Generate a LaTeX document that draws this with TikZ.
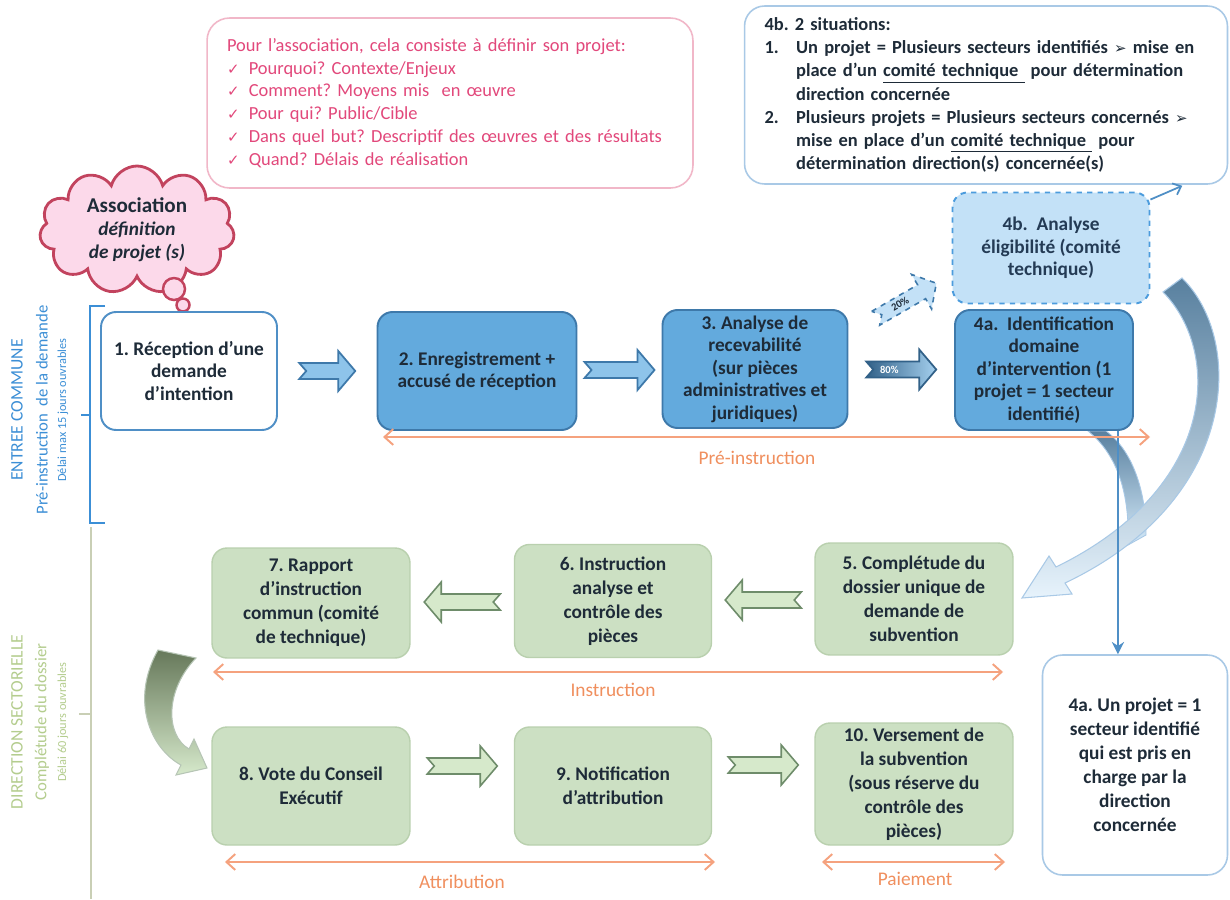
\documentclass[tikz,border=0pt]{standalone}
\usepackage{fontspec}
\setmainfont{Carlito}
\newfontfamily\symfont{DejaVu Sans}
\usetikzlibrary{shapes.symbols,arrows.meta,calc}
\frenchspacing
\definecolor{boxblue}{HTML}{63AADD}
\definecolor{boxblueline}{HTML}{3E79AA}
\definecolor{arrowblue}{HTML}{8EC4EA}
\definecolor{paleblue}{HTML}{C3E1F7}
\definecolor{dashblue}{HTML}{4C9CDD}
\definecolor{lineblue}{HTML}{4F8FC6}
\definecolor{noteblue}{HTML}{A9C9E6}
\definecolor{navytext}{HTML}{243B55}
\definecolor{boxgreen}{HTML}{CCE0C3}
\definecolor{boxgreenline}{HTML}{B9D0AE}
\definecolor{arrowgreen}{HTML}{D6E9CB}
\definecolor{arrowgreenline}{HTML}{6E8C6A}
\definecolor{salmon}{HTML}{F5A27E}
\definecolor{salmontext}{HTML}{F08F5E}
\definecolor{pinktext}{HTML}{E2487B}
\definecolor{pinkline}{HTML}{F1B7C8}
\definecolor{cloudfill}{HTML}{FCD9EA}
\definecolor{cloudline}{HTML}{C2435E}
\definecolor{inkdark}{HTML}{1E2B38}
\definecolor{entryblue}{HTML}{3C8FD6}
\definecolor{sectgreen}{HTML}{B4CD8E}
\definecolor{sectline}{HTML}{C9CFB5}
\definecolor{steel}{HTML}{58809F}
\definecolor{olive}{HTML}{66785A}
\newcommand{\chk}{{\symfont\fontsize{8.5}{10}\selectfont ✓}}
\newcommand{\pointer}{{\symfont\fontsize{8.5}{10}\selectfont ➢}}
\newcommand{\numitem}[1]{\makebox[18pt][l]{#1}}
\begin{document}
\begin{tikzpicture}[x=0.02cm, y=-0.02cm,
    box/.style={rounded corners=0.3cm, align=center, inner sep=2pt, text=inkdark,
      font=\bfseries\fontsize{11}{12.8}\selectfont},
    whitebox/.style={box, fill=white, draw=lineblue, line width=1.1pt},
    bluebox/.style={box, fill=boxblue, draw=boxblueline, line width=1.1pt},
    dashbox/.style={box, fill=paleblue, draw=dashblue, dashed, line width=1.1pt, text=navytext},
    greenbox/.style={box, fill=boxgreen, draw=boxgreenline, line width=0.8pt,
      font=\bfseries\fontsize{11}{13.6}\selectfont},
    notebox/.style={rounded corners=0.4cm, draw=noteblue, fill=white, line width=0.9pt,
      inner xsep=0.4cm, text=inkdark, font=\bfseries\fontsize{10.5}{13.2}\selectfont},
    pinkbox/.style={rounded corners=0.45cm, draw=pinkline, fill=white, line width=0.9pt,
      inner xsep=0.4cm, text=pinktext, font=\fontsize{10.5}{13}\selectfont},
    bubble/.style={circle, fill=cloudfill, draw=cloudline, line width=1.4pt, inner sep=0pt},
    sidehead/.style={rotate=90, font=\fontsize{10}{12}\selectfont},
    sidesub/.style={rotate=90, font=\fontsize{9.5}{11}\selectfont},
    sidenote/.style={rotate=90, font=\fontsize{7}{8}\selectfont},
    spanarrow/.style={salmon, line width=1.1pt,
      {Straight Barb[length=5pt,width=9pt]}-{Straight Barb[length=5pt,width=9pt]}},
    spanlabel/.style={text=salmontext, font=\fontsize{11}{13}\selectfont},
    rowarrow/.style={fill=arrowblue, draw=boxblueline, line width=1pt},
    darkarrow/.style={left color=boxblueline!80!black, right color=arrowblue!80, draw=boxblueline!80!black, line width=1pt},
    dasharrow/.style={fill=paleblue, draw=boxblueline, dashed, line width=0.9pt},
    greenarrow/.style={fill=arrowgreen, draw=arrowgreenline, line width=0.9pt},
    pct/.style={font=\bfseries\fontsize{6}{7}\selectfont, text=inkdark, inner sep=0pt},
    pics/notched/.style={code={
      \path[pic actions] (-#1/2,-8) -- (#1/2-17,-8) -- (#1/2-17,-20) -- (#1/2,0)
        -- (#1/2-17,20) -- (#1/2-17,8) -- (-#1/2,8) -- (-#1/2+7,0) -- cycle;
    }}
  ]
\fill[white] (0,0) rectangle (1230,899);
\useasboundingbox (0,0) rectangle (1230,899);

\node[pinkbox, minimum width=9.72cm, minimum height=3.4cm, text width=8.92cm, align=left] (goal) at (450,103)
  {Pour l’association, cela consiste à définir son projet:\\
   \chk\hspace{0.5em}Pourquoi? Contexte/Enjeux\\
   \chk\hspace{0.5em}Comment? Moyens mis\ \ en œuvre\\
   \chk\hspace{0.5em}Pour qui? Public/Cible\\
   \chk\hspace{0.5em}Dans quel but? Descriptif des œuvres et des résultats\\
   \chk\hspace{0.5em}Quand? Délais de réalisation};
\node[notebox, minimum width=9.66cm, minimum height=3.56cm, text width=8.86cm, align=left] (situ) at (986,95)
  {4b. 2 situations:\\
   \numitem{1.}Un projet = Plusieurs secteurs identifiés \pointer\ mise en\\
   \hspace*{18pt}place d’un \underline{comité technique\ } pour détermination\\
   \hspace*{18pt}direction concernée\\
   \numitem{2.}Plusieurs projets = Plusieurs secteurs concernés \pointer\\
   \hspace*{18pt}mise en place d’un \underline{comité technique\ } pour\\
   \hspace*{18pt}détermination direction(s) concernée(s)};

\node[cloud, cloud puffs=11, cloud ignores aspect, fill=cloudfill, draw=cloudline, line width=1.6pt,
  minimum width=3.9cm, minimum height=2.56cm, align=center, inner sep=0pt, text=inkdark] (assoc) at (137,230)
  {{\bfseries\fontsize{12}{14}\selectfont Association}\\[1pt]
   {\bfseries\itshape\fontsize{11}{13}\selectfont définition}\\[1pt]
   {\bfseries\itshape\fontsize{11}{13}\selectfont de projet (s)}};
\node[bubble, minimum size=0.44cm] (puffa) at (174,289) {};
\node[bubble, minimum size=0.26cm] (puffb) at (183,305) {};

\node[sidehead, text=entryblue] (entree) at (17,410) {ENTREE COMMUNE};
\node[sidesub, text=entryblue] (preinst) at (42,410) {Pré-instruction\ \ de la demande};
\node[sidenote, text=entryblue] (delaia) at (63,410) {Délai max 15 jours ouvrables};
\node[sidehead, text=sectgreen] (direct) at (17,722) {DIRECTION SECTORIELLE};
\node[sidesub, text=sectgreen] (complsub) at (42,722) {Complétude du dossier};
\node[sidenote, text=sectgreen] (delaib) at (63,722) {Délai 60 jours ouvrables};
\draw[entryblue, line width=1.3pt] (105,306) -- (90,306) -- (90,523) -- (105,523);
\draw[entryblue, line width=1.3pt] (90,415) -- (81,415);
\draw[sectline, line width=1.3pt] (91,527) -- (91,899);
\draw[sectline, line width=1.3pt] (91,714) -- (79,714);

\shade[top color=steel, bottom color=paleblue!70, draw=noteblue, line width=0.5pt]
  (1088,431) .. controls (1118,455) and (1130,495) .. (1128,545)
  -- (1146,535) .. controls (1146,490) and (1132,450) .. (1106,431) -- cycle;
\shade[top color=steel, bottom color=paleblue!40, draw=noteblue, line width=0.6pt]
  (1182,278) .. controls (1245,340) and (1240,500) .. (1065,583)
  -- (1072,594) -- (1022,598) -- (1049,556) -- (1056,567)
  .. controls (1218,488) and (1222,352) .. (1163,292) -- cycle;
\shade[top color=olive, bottom color=arrowgreen, draw=arrowgreenline!50, line width=0.6pt]
  (158,650) .. controls (130,700) and (150,748) .. (181,765)
  -- (176,775) -- (207,768) -- (194,739) -- (189,749)
  .. controls (165,735) and (165,690) .. (196,658) -- cycle;

\node[whitebox, minimum width=3.52cm, minimum height=2.36cm] (recep) at (189,371)
  {1. Réception d’une\\demande\\d’intention};
\node[bluebox, minimum width=3.98cm, minimum height=2.36cm] (enreg) at (477,371)
  {2. Enregistrement +\\accusé de réception};
\node[bluebox, minimum width=3.7cm, minimum height=2.36cm] (receva) at (755,369)
  {3. Analyse de\\recevabilité\\(sur pièces\\administratives et\\juridiques)};
\node[bluebox, minimum width=3.56cm, minimum height=2.4cm] (ident) at (1044,370)
  {4a.\ \ Identification\\domaine\\d’intervention (1\\projet = 1 secteur\\identifié)};
\node[dashbox, minimum width=3.94cm, minimum height=2.22cm] (eligib) at (1051,248)
  {4b.\ \ Analyse\\éligibilité (comité\\technique)};
\node[notebox, minimum width=3.7cm, minimum height=4.4cm, inner xsep=2pt, align=center,
  font=\bfseries\fontsize{11}{13.6}\selectfont] (onesect) at (1135,765)
  {4a. Un projet = 1\\secteur identifié\\qui est pris en\\charge par la\\direction\\concernée};

\node[greenbox, minimum width=3.96cm, minimum height=2.2cm] (rapport) at (311,603)
  {7. Rapport\\d’instruction\\commun (comité\\de technique)};
\node[greenbox, minimum width=3.94cm, minimum height=2.26cm] (instr) at (613,601)
  {6. Instruction\\analyse et\\contrôle des\\pièces};
\node[greenbox, minimum width=3.96cm, minimum height=2.24cm] (complet) at (914,599)
  {5. Complétude du\\dossier unique de\\demande de\\subvention};
\node[greenbox, minimum width=3.96cm, minimum height=2.36cm] (vote) at (311,786)
  {8. Vote du Conseil\\Exécutif};
\node[greenbox, minimum width=3.94cm, minimum height=2.36cm] (notif) at (613,786)
  {9. Notification\\d’attribution};
\node[greenbox, minimum width=3.96cm, minimum height=2.44cm] (versmt) at (914,784)
  {10. Versement de\\la subvention\\(sous réserve du\\contrôle des\\pièces)};

\pic[rowarrow] at ($(recep.east)!0.5!(enreg.west)$) {notched=56};
\pic[rowarrow] at ($(enreg.east)!0.5!(receva.west)$) {notched=70};
\pic[darkarrow] at ($(receva.east)!0.5!(ident.west)$) {notched=70};
\node[pct, text=white] (pcta) at ($(receva.east)!0.5!(ident.west)+(-12,0)$) {80\%};
\pic[dasharrow, rotate=30] at ($(receva.north east)!0.5!(eligib.south west)+(6,-6)$) {notched=70};
\node[pct, rotate=30] (pctb) at ($(receva.north east)!0.5!(eligib.south west)+(0,-3)$) {20\%};
\pic[greenarrow, rotate=180] at ($(instr.west)!0.5!(rapport.east)$) {notched=76};
\pic[greenarrow, rotate=180] at ($(complet.west)!0.5!(instr.east)$) {notched=76};
\pic[greenarrow] at ($(vote.east)!0.5!(notif.west)+(0,-20)$) {notched=70};
\pic[greenarrow] at ($(notif.east)!0.5!(versmt.west)+(0,-20)$) {notched=70};

\coordinate (drop) at ($(ident.south east)+(-16,0)$);
\draw[lineblue, line width=1pt, -{Stealth[length=7pt,width=7pt]}] (drop) -- (drop |- onesect.north);
\coordinate (situin) at ($(situ.south east)+(-46,1)$);
\draw[lineblue, line width=1pt, -{Straight Barb[length=4pt,width=7pt]}] ($(eligib.north east)+(0,8)$) -- (situin);

\draw[spanarrow] (383,437) -- (1150,437);
\node[spanlabel] (lblpre) at (757,458) {Pré-instruction};
\draw[spanarrow] (213,672) -- (1003,672);
\node[spanlabel] (lblinst) at (613,690) {Instruction};
\draw[spanarrow] (225,862) -- (715,862);
\node[spanlabel] (lblattr) at (462,882) {Attribution};
\draw[spanarrow] (822,862) -- (1005,862);
\node[spanlabel] (lblpaie) at (915,879) {Paiement};
\end{tikzpicture}
\end{document}
